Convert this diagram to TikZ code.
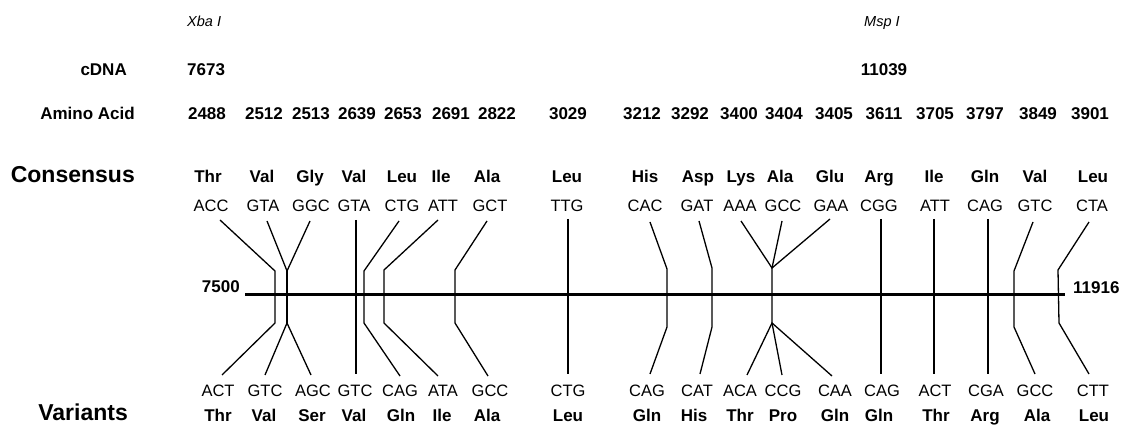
\documentclass[tikz,border=0pt]{standalone}
\usepackage{fontspec}
\setmainfont{Liberation Sans}
\begin{document}
\begin{tikzpicture}[x=1pt,y=-1pt,
  txt/.style={inner sep=0pt,anchor=base},
  bl/.style={txt,font=\bfseries\fontsize{17}{17}\selectfont},
  cod/.style={txt,font=\fontsize{16.5}{16.5}\selectfont},
  big/.style={txt,font=\bfseries\fontsize{23}{23}\selectfont},
  site/.style={txt,font=\itshape\fontsize{14.5}{14.5}\selectfont},
  conn/.style={line width=1.3pt,line join=miter},
  axis/.style={line width=3pt}]
\useasboundingbox (0,0) rectangle (1125,427);

% row labels
\node[big,anchor=base east] (consensus) at (135,183) {Consensus};
\node[big,anchor=base east] (variants) at (128,421) {Variants};
\node[bl,anchor=base east] (aminoacid) at (135,120) {Amino Acid};
\node[bl,anchor=base east] (cdna) at (127,76) {cDNA};

% restriction sites and cDNA numbers
\node[site,anchor=base west] (xba) at (187,27) {Xba I};
\node[site,anchor=base west] (msp) at (864,27) {Msp I};
\node[bl,anchor=base west] (c7673) at (187,76) {7673};
\node[bl] (c11039) at (884,76) {11039};

% amino acid numbers
\foreach \x/\t [count=\i] in {207/2488,264/2512,311/2513,357/2639,403/2653,451/2691,497/2822,568/3029,642/3212,690/3292,739/3400,784/3404,834/3405,884/3611,935/3705,985/3797,1038/3849,1090/3901}
  \node[bl] (num\i) at (\x,120) {\t};

% consensus amino acids
\foreach \x/\t [count=\i] in {208/Thr,262/Val,310/Gly,354/Val,402/Leu,441/Ile,487/Ala,567/Leu,645/His,698/Asp,741/Lys,780/Ala,830/Glu,879/Arg,934/Ile,985/Gln,1035/Val,1093/Leu}
  \node[bl] (ca\i) at (\x,183) {\t};

% consensus codons
\foreach \x/\t [count=\i] in {211/ACC,263/GTA,311/GGC,354/GTA,402/CTG,443/ATT,490/GCT,567/TTG,645/CAC,697/GAT,740/AAA,783/GCC,831/GAA,879/CGG,935/ATT,985/CAG,1035/GTC,1092/CTA}
  \node[cod] (cc\i) at (\x,212) {\t};

% variant codons
\foreach \x/\t [count=\i] in {218/ACT,265/GTC,313/AGC,355/GTC,400/CAG,443/ATA,490/GCC,568/CTG,647/CAG,697/CAT,740/ACA,783/CCG,835/CAA,882/CAG,935/ACT,986/CGA,1035/GCC,1093/CTT}
  \node[cod] (vc\i) at (\x,397) {\t};

% variant amino acids
\foreach \x/\t [count=\i] in {218/Thr,264/Val,312/Ser,354/Val,401/Gln,442/Ile,487/Ala,568/Leu,647/Gln,694/His,740/Thr,783/Pro,835/Gln,879/Gln,936/Thr,985/Arg,1037/Ala,1094/Leu}
  \node[bl] (va\i) at (\x,422) {\t};

% map ends
\node[bl,anchor=base east] (n7500) at (240,293) {7500};
\node[bl,anchor=base west] (n11916) at (1073,294) {11916};
\coordinate (m0) at (245,295);
\coordinate (m1) at (1065,295);
\draw[axis] (m0) -- (m1);

% connectors
% 1 Thr 2488
\coordinate (u1) at (220,220); \coordinate (p1) at (275,271); \coordinate (q1) at (275,323); \coordinate (d1) at (222,375);
\draw[conn] (u1) -- (p1) -- (q1) -- (d1);
% 2 Val 2512 / Gly 2513
\coordinate (u2) at (267,221); \coordinate (u3) at (310,221);
\coordinate (p2) at (287,271); \coordinate (q2) at (287,323);
\coordinate (d2) at (265,375); \coordinate (d3) at (311,375);
\draw[conn] (u2) -- (p2) -- (u3);
\draw[conn] (p2) -- (q2);
\draw[conn] (d2) -- (q2) -- (d3);
% 3 Val 2639
\coordinate (u4) at (356,220); \coordinate (d4) at (356,374);
\draw[conn] (u4) -- (d4);
% 4 Leu 2653
\coordinate (u5) at (399,221); \coordinate (p5) at (364,271); \coordinate (q5) at (364,323); \coordinate (d5) at (400,376);
\draw[conn] (u5) -- (p5) -- (q5) -- (d5);
% 5 Ile 2691
\coordinate (u6) at (438,220); \coordinate (p6) at (384,270); \coordinate (q6) at (384,323); \coordinate (d6) at (438,376);
\draw[conn] (u6) -- (p6) -- (q6) -- (d6);
% 6 Ala 2822
\coordinate (u7) at (487,221); \coordinate (p7) at (455,270); \coordinate (q7) at (455,323); \coordinate (d7) at (488,376);
\draw[conn] (u7) -- (p7) -- (q7) -- (d7);
% 7 Leu 3029
\coordinate (u8) at (568,219); \coordinate (d8) at (568,374);
\draw[conn] (u8) -- (d8);
% 8 His 3212
\coordinate (u9) at (650,222); \coordinate (p9) at (667,269); \coordinate (q9) at (667,327); \coordinate (d9) at (650,374);
\draw[conn] (u9) -- (p9) -- (q9) -- (d9);
% 9 Asp 3292
\coordinate (u10) at (699,221); \coordinate (p10) at (712,268); \coordinate (q10) at (712,327); \coordinate (d10) at (700,374);
\draw[conn] (u10) -- (p10) -- (q10) -- (d10);
% 10 Lys/Ala/Glu 3400-3405
\coordinate (u11) at (741,221); \coordinate (u12) at (782,221); \coordinate (u13) at (830,219);
\coordinate (p11) at (772,268); \coordinate (q11) at (772,323);
\coordinate (d11) at (747,375); \coordinate (d12) at (782,375); \coordinate (d13) at (832,376);
\draw[conn] (u11) -- (p11) -- (u13);
\draw[conn] (u12) -- (p11) -- (q11);
\draw[conn] (d11) -- (q11) -- (d13);
\draw[conn] (q11) -- (d12);
% 11 Arg 3611
\coordinate (u14) at (881,219); \coordinate (d14) at (881,374);
\draw[conn] (u14) -- (d14);
% 12 Ile 3705
\coordinate (u15) at (934,219); \coordinate (d15) at (934,374);
\draw[conn] (u15) -- (d15);
% 13 Gln 3797
\coordinate (u16) at (988,219); \coordinate (d16) at (988,374);
\draw[conn] (u16) -- (d16);
% 14 Val 3849
\coordinate (u17) at (1033,222); \coordinate (p17) at (1014,271); \coordinate (q17) at (1014,327); \coordinate (d17) at (1035,374);
\draw[conn] (u17) -- (p17) -- (q17) -- (d17);
% 15 Leu 3901
\coordinate (u18) at (1089,222); \coordinate (p18) at (1058,270); \coordinate (q18) at (1059,323); \coordinate (d18) at (1089,374);
\draw[conn] (u18) -- (p18) -- (q18) -- (d18);
\end{tikzpicture}
\end{document}
